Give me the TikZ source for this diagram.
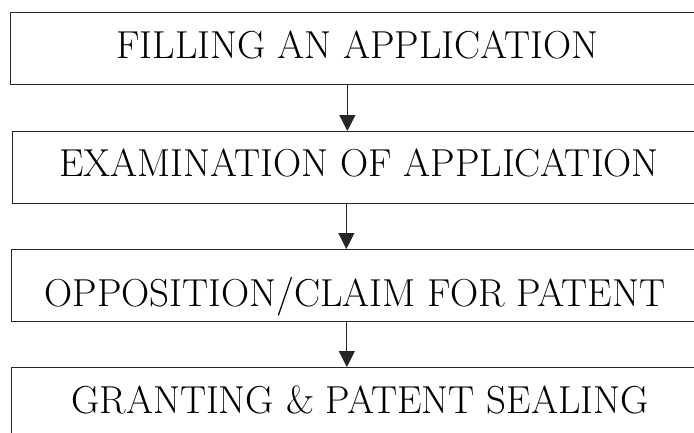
\documentclass[tikz,border=0pt]{standalone}
\usepackage{fontspec}
\usetikzlibrary{arrows.meta}
\tikzset{
  stepbox/.style={draw=black!85, line width=1.3pt, minimum height=72pt, inner sep=0pt, anchor=north west},
  steptext/.style={anchor=base, inner sep=0pt, font=\fontsize{39}{41}\selectfont},
  flow/.style={draw=black!85, line width=1pt, -{Triangle[length=16pt,width=16pt]}}
}
\begin{document}
\begin{tikzpicture}[x=1pt,y=-1pt]
\useasboundingbox (0,0) rectangle (694,432);
\clip (0,0) rectangle (694,432);
\node[stepbox, minimum width=695pt] (b1) at (9.7,12) {};
\node[stepbox, minimum width=693pt] (b2) at (12,131) {};
\node[stepbox, minimum width=694pt] (b3) at (11,249) {};
\node[stepbox, minimum width=694pt] (b4) at (11,367) {};
\node[steptext] (t1) at (357.5,58.3) {FILLING AN APPLICATION};
\node[steptext] (t2) at (359,176) {EXAMINATION OF APPLICATION};
\node[steptext] (t3) at (355,306) {OPPOSITION/CLAIM FOR PATENT};
\node[steptext] (t4) at (360,413) {GRANTING \& PATENT SEALING};
\draw[flow] ([xshift=-10.5pt]b1.south) -- ([xshift=-10.5pt]b1.south |- b2.north);
\draw[flow] ([xshift=-11.5pt]b1.south |- b2.south) -- ([xshift=-11.5pt]b1.south |- b3.north);
\draw[flow] ([xshift=-11pt]b1.south |- b3.south) -- ([xshift=-11pt]b1.south |- b4.north);
\end{tikzpicture}
\end{document}
